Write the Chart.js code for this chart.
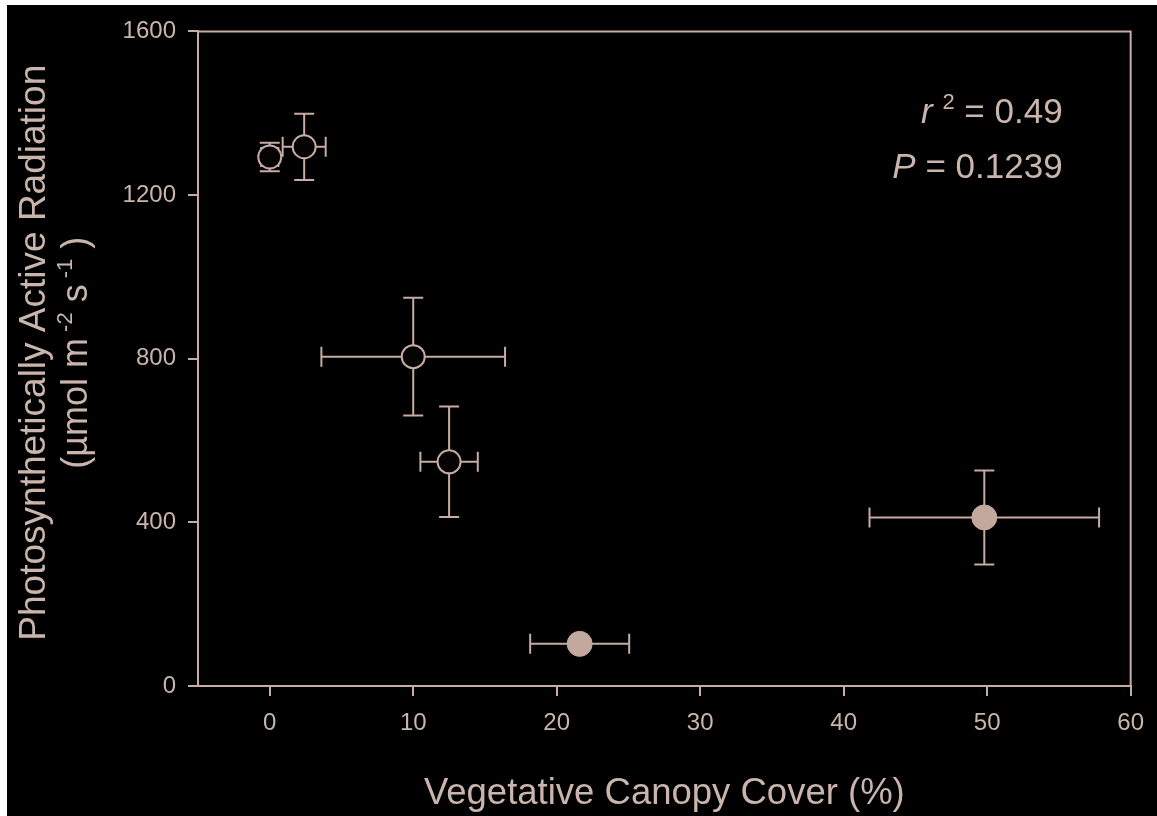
<!DOCTYPE html>
<html>
<head>
<meta charset="utf-8">
<script src="https://cdn.jsdelivr.net/npm/chart.js@4.4.1/dist/chart.umd.min.js"></script>
<style>
  html, body { margin: 0; padding: 0; background: #ffffff; }
  #wrap { position: absolute; left: 7px; top: 5px; width: 1150px; height: 811px; background: #000000; }
</style>
</head>
<body>
<div id="wrap"><canvas id="chart"></canvas></div>
<script>
// Canopy cover (%) vs. photosynthetically active radiation, means with error bars
const xTicks = [0, 10, 20, 30, 40, 50, 60];
const yTicks = [0, 400, 800, 1200, 1600];

// open circles
const coverOpen = [0, 2.4, 10, 12.5];
const parOpen = [1293, 1318, 805, 548];
const coverErrOpen = [0.6, 1.5, 6.4, 2.0];
const parErrOpen = [35, 81, 144, 135];

// filled circles
const coverFilled = [21.6, 49.8];
const parFilled = [103, 412];
const coverErrFilled = [3.45, 8.0];
const parErrFilled = [0, 115];

const statR2 = '0.49';
const statP = '0.1239';

const xTitle = 'Vegetative Canopy Cover (%)';
const yTitle1 = 'Photosynthetically Active Radiation';

const LINE = '#c6aca4';
const TEXT = '#c9b5ab';
const FILL = '#c2a89d';
const FONT = '"Liberation Sans", Arial, sans-serif';

function toPoints(xs, ys, xe, ye) {
  return xs.map((x, i) => ({ x: x, y: ys[i], xErr: xe[i], yErr: ye[i] }));
}

// error bars drawn under the markers
const errorBars = {
  id: 'errorBars',
  beforeDatasetsDraw(chart) {
    const ctx = chart.ctx;
    const xs = chart.scales.x, ys = chart.scales.y;
    const cap = 10;
    ctx.save();
    ctx.strokeStyle = LINE;
    ctx.lineWidth = 2;
    chart.data.datasets.forEach(ds => {
      ds.data.forEach(p => {
        const px = xs.getPixelForValue(p.x);
        const py = ys.getPixelForValue(p.y);
        ctx.beginPath();
        if (p.xErr > 0) {
          const x0 = xs.getPixelForValue(p.x - p.xErr);
          const x1 = xs.getPixelForValue(p.x + p.xErr);
          ctx.moveTo(x0, py); ctx.lineTo(x1, py);
          ctx.moveTo(x0, py - cap); ctx.lineTo(x0, py + cap);
          ctx.moveTo(x1, py - cap); ctx.lineTo(x1, py + cap);
        }
        if (p.yErr > 0) {
          const y0 = ys.getPixelForValue(p.y - p.yErr);
          const y1 = ys.getPixelForValue(p.y + p.yErr);
          ctx.moveTo(px, y0); ctx.lineTo(px, y1);
          ctx.moveTo(px - cap, y0); ctx.lineTo(px + cap, y0);
          ctx.moveTo(px - cap, y1); ctx.lineTo(px + cap, y1);
        }
        ctx.stroke();
      });
    });
    ctx.restore();
  }
};

// draws a run of [text, style] segments; style: 'n' normal, 'i' italic, 's' superscript
function drawRuns(ctx, runs, x, y, size, align) {
  const fontFor = st => (st === 'i' ? 'italic ' : '') + (st === 's' ? Math.round(size * 0.62) : size) + 'px ' + FONT;
  let total = 0;
  runs.forEach(r => { ctx.font = fontFor(r[1]); total += ctx.measureText(r[0]).width; });
  let cx = align === 'right' ? x - total : align === 'center' ? x - total / 2 : x;
  ctx.textBaseline = 'alphabetic';
  ctx.textAlign = 'left';
  runs.forEach(r => {
    ctx.font = fontFor(r[1]);
    const dy = r[1] === 's' ? -size * 0.42 : 0;
    ctx.fillText(r[0], cx, y + dy);
    cx += ctx.measureText(r[0]).width;
  });
}

const extras = {
  id: 'extras',
  afterDraw(chart) {
    const ctx = chart.ctx;
    const a = chart.chartArea;
    ctx.save();
    // frame: top and right sides of the plot box
    ctx.strokeStyle = LINE;
    ctx.lineWidth = 2;
    ctx.beginPath();
    ctx.moveTo(a.left, a.top);
    ctx.lineTo(a.right, a.top);
    ctx.lineTo(a.right, a.bottom);
    ctx.stroke();

    ctx.fillStyle = TEXT;
    // statistics
    drawRuns(ctx, [['r', 'i'], [' ', 'n'], ['2', 's'], [' = ' + statR2, 'n']], a.right - 68, a.top + 92, 35, 'right');
    drawRuns(ctx, [['P', 'i'], [' = ' + statP, 'n']], a.right - 68, a.top + 147, 35, 'right');

    // y axis title, two lines rotated
    const cy = (a.top + a.bottom) / 2 - 6;
    ctx.save();
    ctx.translate(0, cy);
    ctx.rotate(-Math.PI / 2);
    drawRuns(ctx, [[yTitle1, 'n']], 0, 38, 37, 'center');
    drawRuns(ctx, [['(\u00b5mol m', 'n'], [' -2', 's'], [' s', 'n'], [' -1', 's'], [' )', 'n']], 0, 80, 36, 'center');
    ctx.restore();
    ctx.restore();
  }
};

new Chart(document.getElementById('chart'), {
  type: 'scatter',
  data: {
    datasets: [
      {
        label: 'open',
        data: toPoints(coverOpen, parOpen, coverErrOpen, parErrOpen),
        backgroundColor: '#060303',
        borderColor: LINE,
        borderWidth: 2,
        pointRadius: 11.5,
        pointHoverRadius: 11.5
      },
      {
        label: 'filled',
        data: toPoints(coverFilled, parFilled, coverErrFilled, parErrFilled),
        backgroundColor: FILL,
        borderColor: FILL,
        borderWidth: 1,
        pointRadius: 12.5,
        pointHoverRadius: 12.5
      }
    ]
  },
  options: {
    responsive: true,
    maintainAspectRatio: false,
    animation: false,
    events: [],
    layout: { padding: { top: 26, right: 26, left: 0, bottom: 0 } },
    plugins: { legend: { display: false }, tooltip: { enabled: false } },
    scales: {
      x: {
        type: 'linear',
        min: -5,
        max: 60,
        afterBuildTicks: s => { s.ticks = xTicks.map(v => ({ value: v })); },
        afterFit: s => { s.height = 130; },
        border: { display: true, color: LINE, width: 2 },
        grid: { drawOnChartArea: false, drawTicks: true, tickLength: 10, color: LINE, lineWidth: 2 },
        ticks: { color: TEXT, font: { family: FONT, size: 24 }, padding: 13, maxRotation: 0, callback: v => String(v) },
        title: { display: true, text: xTitle, color: TEXT, font: { family: FONT, size: 36.5 }, padding: { top: 0, bottom: 0 } }
      },
      y: {
        type: 'linear',
        min: 0,
        max: 1600,
        afterBuildTicks: s => { s.ticks = yTicks.map(v => ({ value: v })); },
        afterFit: s => { s.width = 191; },
        border: { display: true, color: LINE, width: 2 },
        grid: { drawOnChartArea: false, drawTicks: true, tickLength: 10, color: LINE, lineWidth: 2 },
        ticks: { color: TEXT, font: { family: FONT, size: 24 }, padding: 12, callback: v => String(v) }
      }
    }
  },
  plugins: [errorBars, extras]
});
</script>
</body>
</html>
